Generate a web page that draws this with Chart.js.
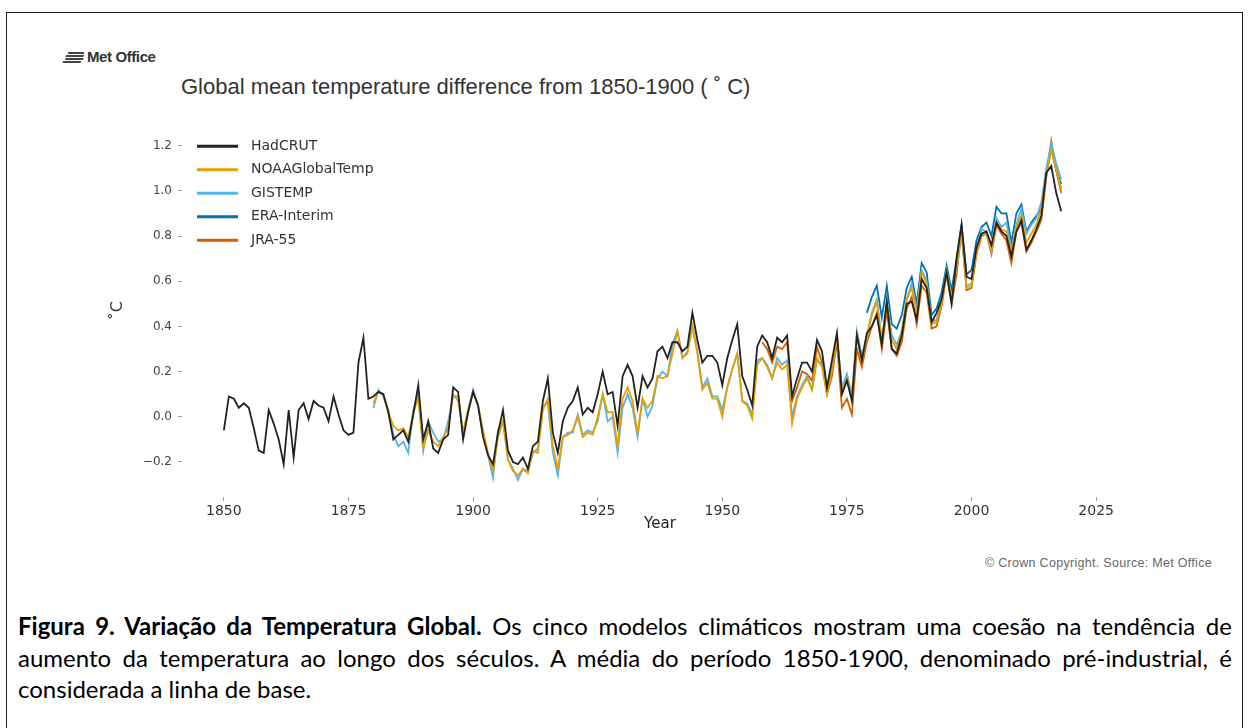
<!DOCTYPE html>
<html lang="pt">
<head>
<meta charset="UTF-8">
<title>Global mean temperature difference from 1850-1900</title>
<script src="https://cdn.jsdelivr.net/npm/chart.js"></script>
<style>
    body {
        margin: 0;
        width: 1249px;
        height: 728px;
        overflow: hidden;
        position: relative;
        background: #fff;
        font-family: 'Liberation Sans', Arial, sans-serif;
    }
    #frame {
        position: absolute;
        left: 6px;
        top: 12px;
        width: 1237px;
        height: 740px;
        border: 1px solid #222;
        box-sizing: border-box;
    }
    #logo {
        position: absolute;
        left: 62px;
        top: 48px;
        font-weight: bold;
        font-size: 15px;
        color: #333;
        display: flex;
        align-items: center;
        gap: 3px;
        letter-spacing: -0.4px;
    }
    #title {
        position: absolute;
        left: 181px;
        top: 74px;
        font-size: 22px;
        color: #333;
    }
    #chartBox {
        position: absolute;
        left: 108px;
        top: 111px;
        width: 1030px;
        height: 436px;
    }
    #copy {
        position: absolute;
        right: 37px;
        top: 556px;
        font-size: 12.5px;
        letter-spacing: 0.3px;
        color: #666;
    }
    .cap {
        position: absolute;
        left: 18px;
        width: 1214px;
        font-family: Lato, 'Open Sans', sans-serif;
        font-size: 24px;
        line-height: 30px;
        color: #000;
        text-align: justify;
        text-align-last: justify;
    }
</style>
</head>
<body>
<div id="frame"></div>
<div id="logo">
    <svg width="22" height="12" viewBox="0 0 22 12">
        <path d="M2 2 L20 2 M1 5 L19 5 M2 8 L20 8 M1 11 L19 11" stroke="#444" stroke-width="1.8" fill="none" transform="skewX(-25) translate(5 0)"/>
    </svg>
    <span>Met Office</span>
</div>
<div id="title">Global mean temperature difference from 1850-1900 ( &#730; C)</div>
<div id="chartBox"><canvas id="tempChart"></canvas></div>
<div id="copy">&copy; Crown Copyright. Source: Met Office</div>
<div class="cap" style="top:611px"><b>Figura 9. Variação da Temperatura Global.</b> Os cinco modelos climáticos mostram uma coesão na tendência de</div>
<div class="cap" style="top:643px">aumento da temperatura ao longo dos séculos. A média do período 1850-1900, denominado pré-industrial, é</div>
<div class="cap" style="top:674px; text-align-last:left">considerada a linha de base.</div>

<script>
    // anomalies vs 1850-1900 (°C), one value per year from the start year
    const HADCRUT_START = 1850;
    const hadcrut = [
        -0.06, 0.09, 0.08, 0.04, 0.06, 0.04, -0.05, -0.15, -0.16, 0.03,
        -0.03, -0.10, -0.21, 0.03, -0.18, 0.03, 0.06, -0.01, 0.07, 0.05,
        0.04, -0.02, 0.09, 0.01, -0.06, -0.08, -0.07, 0.24, 0.35, 0.08,
        0.09, 0.11, 0.10, 0.02, -0.10, -0.08, -0.06, -0.11, 0.01, 0.14,
        -0.10, -0.02, -0.14, -0.16, -0.10, -0.08, 0.13, 0.11, -0.10, 0.02,
        0.11, 0.05, -0.09, -0.17, -0.21, -0.07, 0.03, -0.15, -0.20, -0.21,
        -0.18, -0.23, -0.13, -0.11, 0.07, 0.17, -0.07, -0.16, -0.02, 0.04,
        0.07, 0.13, 0.01, 0.04, 0.02, 0.10, 0.20, 0.10, 0.11, -0.04,
        0.18, 0.23, 0.18, 0.04, 0.18, 0.13, 0.17, 0.29, 0.31, 0.26,
        0.33, 0.33, 0.29, 0.31, 0.46, 0.34, 0.24, 0.27, 0.27, 0.24,
        0.14, 0.26, 0.34, 0.41, 0.18, 0.12, 0.05, 0.31, 0.36, 0.33,
        0.26, 0.35, 0.33, 0.36, 0.09, 0.17, 0.24, 0.24, 0.20, 0.34,
        0.29, 0.13, 0.25, 0.37, 0.10, 0.16, 0.07, 0.36, 0.25, 0.37,
        0.40, 0.45, 0.32, 0.51, 0.30, 0.28, 0.36, 0.50, 0.51, 0.43,
        0.61, 0.57, 0.42, 0.46, 0.52, 0.64, 0.50, 0.70, 0.85, 0.62,
        0.61, 0.75, 0.81, 0.82, 0.76, 0.86, 0.82, 0.80, 0.71, 0.82,
        0.87, 0.74, 0.78, 0.83, 0.89, 1.08, 1.11, 0.99, 0.91
    ];

    const NOAA_START = 1880;
    const noaaGlobalTemp = [
        0.06, 0.11, 0.10, 0.02, -0.04, -0.06, -0.05, -0.09, 0.02, 0.08,
        -0.14, -0.06, -0.11, -0.13, -0.09, -0.05, 0.10, 0.07, -0.07, 0.03,
        0.11, 0.05, -0.06, -0.16, -0.24, -0.09, -0.02, -0.19, -0.24, -0.26,
        -0.23, -0.25, -0.15, -0.16, 0.03, 0.08, -0.13, -0.23, -0.09, -0.08,
        -0.06, 0.00, -0.09, -0.07, -0.08, 0.00, 0.10, 0.02, 0.02, -0.13,
        0.08, 0.13, 0.07, -0.07, 0.08, 0.04, 0.07, 0.18, 0.17, 0.18,
        0.28, 0.38, 0.26, 0.28, 0.40, 0.28, 0.12, 0.15, 0.08, 0.08,
        0.00, 0.13, 0.21, 0.28, 0.07, 0.05, -0.01, 0.23, 0.26, 0.22,
        0.17, 0.24, 0.21, 0.23, -0.03, 0.08, 0.13, 0.17, 0.12, 0.26,
        0.22, 0.10, 0.21, 0.35, 0.11, 0.17, 0.08, 0.36, 0.25, 0.35,
        0.45, 0.51, 0.33, 0.50, 0.34, 0.30, 0.37, 0.52, 0.57, 0.46,
        0.64, 0.59, 0.41, 0.42, 0.50, 0.64, 0.52, 0.67, 0.82, 0.57,
        0.58, 0.73, 0.81, 0.81, 0.74, 0.86, 0.83, 0.82, 0.73, 0.84,
        0.89, 0.77, 0.81, 0.85, 0.92, 1.07, 1.18, 1.09, 1.01
    ];

    const GISTEMP_START = 1880;
    const gistemp = [
        0.04, 0.12, 0.09, 0.03, -0.08, -0.13, -0.11, -0.16, 0.03, 0.10,
        -0.15, -0.02, -0.07, -0.11, -0.10, -0.02, 0.09, 0.09, -0.07, 0.03,
        0.12, 0.05, -0.08, -0.17, -0.27, -0.06, -0.02, -0.19, -0.23, -0.28,
        -0.23, -0.24, -0.16, -0.14, 0.05, 0.06, -0.16, -0.26, -0.09, -0.07,
        -0.07, 0.01, -0.08, -0.06, -0.07, -0.02, 0.10, -0.02, 0.00, -0.16,
        0.04, 0.10, 0.04, -0.09, 0.08, 0.00, 0.05, 0.17, 0.20, 0.18,
        0.32, 0.38, 0.26, 0.29, 0.40, 0.29, 0.13, 0.17, 0.09, 0.09,
        0.03, 0.13, 0.21, 0.28, 0.07, 0.06, 0.01, 0.25, 0.26, 0.23,
        0.17, 0.26, 0.23, 0.25, 0.00, 0.09, 0.14, 0.18, 0.12, 0.25,
        0.23, 0.12, 0.21, 0.36, 0.13, 0.19, 0.10, 0.38, 0.27, 0.36,
        0.46, 0.52, 0.34, 0.51, 0.36, 0.32, 0.38, 0.52, 0.59, 0.47,
        0.65, 0.60, 0.42, 0.43, 0.51, 0.65, 0.53, 0.66, 0.81, 0.58,
        0.59, 0.74, 0.83, 0.82, 0.73, 0.88, 0.84, 0.86, 0.74, 0.85,
        0.92, 0.81, 0.85, 0.88, 0.95, 1.10, 1.21, 1.12, 1.05
    ];

    const ERA_START = 1979;
    const eraInterim = [
        0.46, 0.53, 0.58, 0.44, 0.58, 0.41, 0.39, 0.45, 0.57, 0.62,
        0.50, 0.68, 0.64, 0.45, 0.48, 0.55, 0.67, 0.56, 0.70, 0.85,
        0.63, 0.65, 0.78, 0.84, 0.86, 0.80, 0.93, 0.90, 0.90, 0.77,
        0.90, 0.94, 0.82, 0.86, 0.89, 0.92, 1.07, 1.19, 1.09, 1.03
    ];

    const JRA_START = 1958;
    const jra55 = [
        0.33, 0.30, 0.24, 0.31, 0.30, 0.33, 0.07, 0.13, 0.20, 0.19,
        0.16, 0.31, 0.24, 0.10, 0.18, 0.33, 0.04, 0.08, 0.01, 0.30,
        0.22, 0.33, 0.40, 0.46, 0.30, 0.47, 0.30, 0.27, 0.33, 0.48,
        0.53, 0.41, 0.58, 0.55, 0.39, 0.40, 0.49, 0.63, 0.50, 0.63,
        0.83, 0.56, 0.57, 0.72, 0.80, 0.81, 0.72, 0.85, 0.81, 0.78,
        0.68, 0.82, 0.86, 0.73, 0.77, 0.82, 0.87, 1.06, 1.22, 1.09,
        0.99
    ];

    const seriesNames = ['HadCRUT', 'NOAAGlobalTemp', 'GISTEMP', 'ERA-Interim', 'JRA-55'];
    const seriesColors = ['#222222', '#E69F00', '#56B4E9', '#0072B2', '#D55E00'];
    const yearTicks = [1850, 1875, 1900, 1925, 1950, 1975, 2000, 2025];
    const tempTicks = [-0.2, 0.0, 0.2, 0.4, 0.6, 0.8, 1.0, 1.2];

    function toPoints(start, values) {
        return values.map((v, i) => ({ x: start + i, y: v }));
    }

    const seriesData = [
        toPoints(HADCRUT_START, hadcrut),
        toPoints(NOAA_START, noaaGlobalTemp),
        toPoints(GISTEMP_START, gistemp),
        toPoints(ERA_START, eraInterim),
        toPoints(JRA_START, jra55)
    ];

    // legend drawn inside the plot, top left, like the matplotlib one
    const insideLegend = {
        id: 'insideLegend',
        afterDatasetsDraw(chart) {
            const { ctx, chartArea } = chart;
            ctx.save();
            ctx.font = '14px "DejaVu Sans"';
            ctx.textBaseline = 'middle';
            chart.data.datasets.forEach((ds, i) => {
                const y = chartArea.top + 22 + i * 23.5;
                const x = chartArea.left + 15;
                ctx.strokeStyle = ds.borderColor;
                ctx.lineWidth = 3;
                ctx.beginPath();
                ctx.moveTo(x, y);
                ctx.lineTo(x + 41, y);
                ctx.stroke();
                ctx.fillStyle = '#333';
                ctx.fillText(ds.label, x + 54, y);
            });
            ctx.restore();
        }
    };

    new Chart(document.getElementById('tempChart'), {
        type: 'line',
        data: {
            datasets: seriesNames.map((name, i) => ({
                label: name,
                data: seriesData[i],
                borderColor: seriesColors[i],
                backgroundColor: seriesColors[i],
                borderWidth: 1.8,
                pointRadius: 0,
                tension: 0,
                fill: false
            }))
        },
        options: {
            responsive: true,
            maintainAspectRatio: false,
            animation: false,
            layout: { padding: 0 },
            plugins: {
                legend: { display: false },
                tooltip: { enabled: false }
            },
            scales: {
                x: {
                    type: 'linear',
                    min: 1841.6,
                    max: 2033.4,
                    afterBuildTicks: s => { s.ticks = yearTicks.map(v => ({ value: v })); },
                    afterFit: s => { s.height = 50; },
                    grid: { drawOnChartArea: false, drawTicks: true, tickLength: 4, color: '#999' },
                    border: { display: false },
                    ticks: {
                        font: { family: 'DejaVu Sans', size: 14 },
                        color: '#333',
                        padding: 2,
                        maxRotation: 0,
                        callback: v => String(v)
                    },
                    title: {
                        display: true,
                        text: 'Year',
                        font: { family: 'DejaVu Sans', size: 15 },
                        color: '#222',
                        padding: { top: 0, bottom: 14 }
                    }
                },
                y: {
                    min: -0.355,
                    max: 1.295,
                    afterBuildTicks: s => { s.ticks = tempTicks.map(v => ({ value: v })); },
                    afterFit: s => { s.width = 74; },
                    grid: { drawOnChartArea: false, drawTicks: true, tickLength: 4, color: '#999' },
                    border: { display: false },
                    ticks: {
                        font: { family: 'DejaVu Sans', size: 12 },
                        color: '#444',
                        padding: 6,
                        callback: v => (v < 0 ? '\u2212' + Math.abs(v).toFixed(1) : v.toFixed(1))
                    },
                    title: {
                        display: true,
                        text: '\u02DaC',
                        font: { family: 'DejaVu Sans', size: 16 },
                        color: '#333',
                        padding: 0
                    }
                }
            }
        },
        plugins: [insideLegend]
    });
</script>
</body>
</html>
